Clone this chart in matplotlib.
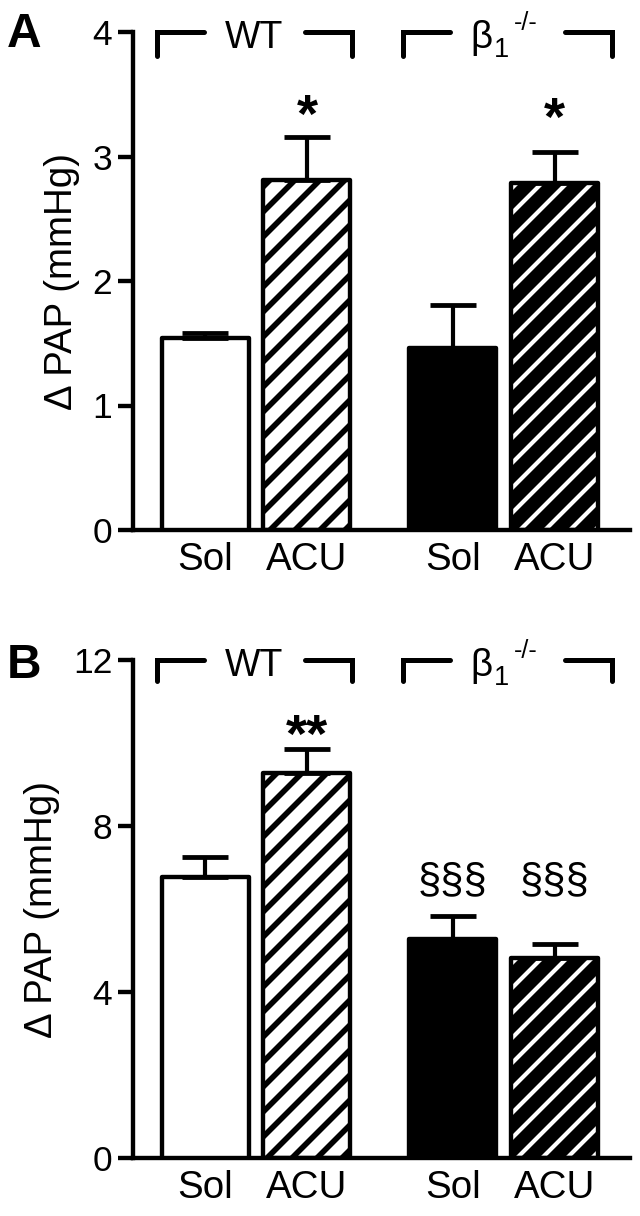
import matplotlib
matplotlib.use('Agg')
import matplotlib.pyplot as plt

# ---------------- data ----------------
conditions = ['Sol', 'ACU', 'Sol', 'ACU']
group_labels = ['WT', 'β1-/-']

a_means = [1.54, 2.81, 1.46, 2.79]
a_sem = [0.045, 0.35, 0.35, 0.25]
a_marks = ['', '*', '', '*']
a_mark_y = [0, 3.20, 0, 3.17]
a_yticks = [0, 1, 2, 3, 4]

b_means = [6.77, 9.28, 5.28, 4.82]
b_sem = [0.48, 0.58, 0.55, 0.34]
b_marks = ['', '**', '§§§', '§§§']
b_mark_y = [0, 9.78, 6.41, 6.41]
b_yticks = [0, 4, 8, 12]

ylabel = 'Δ PAP (mmHg)'

# ---------------- style ----------------
plt.rcParams['font.family'] = ['Liberation Sans', 'DejaVu Sans']
plt.rcParams['hatch.linewidth'] = 2.6

DPI = 150
W, H = 640, 1216
fig = plt.figure(figsize=(W / DPI, H / DPI), dpi=DPI)


def fx(px):
    return px / W


def fy(py):
    return 1 - py / H


xpos = [1.0, 2.0, 3.43, 4.43]
bar_w = 0.853
faces = ['white', 'white', 'black', 'black']
hatches = [None, '//', None, '//']
hatch_cols = [None, 'black', None, 'white']
hatch_lws = [None, 2.7, None, 2.0]
LW = 2.1


def panel(ax, means, sems, marks, mark_y, yticks, letter, letter_base, bracket_drop):
    ymax = yticks[-1]
    for i in range(4):
        if hatches[i]:
            bc = ax.bar(xpos[i], means[i], bar_w, facecolor=faces[i], edgecolor=hatch_cols[i],
                        hatch=hatches[i], linewidth=0, zorder=2)
            for p in bc.patches:
                if hasattr(p, 'set_hatch_linewidth'):
                    p.set_hatch_linewidth(hatch_lws[i])
            ax.bar(xpos[i], means[i], bar_w, fill=False, edgecolor='black',
                   linewidth=LW, zorder=3, joinstyle='round')
        else:
            ax.bar(xpos[i], means[i], bar_w, facecolor=faces[i], edgecolor='black',
                   linewidth=LW, zorder=3, joinstyle='round')
    ax.errorbar(xpos, means, yerr=[[0] * 4, sems], fmt='none', ecolor='black',
                elinewidth=2.0, capsize=11, capthick=2.3, zorder=4)
    for i in range(4):
        if marks[i]:
            big = '*' in marks[i]
            ax.text(xpos[i], mark_y[i], marks[i], ha='center', va='baseline',
                    fontsize=26 if big else 20, fontweight='bold' if big else 'normal',
                    zorder=5)
    ax.set_xlim(0.294, 5.167)
    ax.set_ylim(0, ymax)
    ax.set_yticks(yticks)
    ax.set_xticks(xpos)
    ax.set_xticklabels(conditions, fontsize=18.5)
    ax.tick_params(axis='x', length=0, pad=6)
    ax.tick_params(axis='y', length=7, width=2.1, labelsize=17, pad=3, direction='out')
    for s in ['top', 'right']:
        ax.spines[s].set_visible(False)
    for s in ['left', 'bottom']:
        ax.spines[s].set_linewidth(2.1)
    ax.set_ylabel(ylabel, fontsize=18.5, labelpad=6)

    # group brackets
    centers = [(xpos[0] + xpos[1]) / 2 - 0.015, (xpos[2] + xpos[3]) / 2 + 0.035]
    halves = [0.955, 1.025]
    arm = 0.46
    for c, hw in zip(centers, halves):
        for sgn in (-1, 1):
            xe = c + sgn * hw
            xi = xe - sgn * arm
            ax.plot([xi, xe, xe], [ymax, ymax, ymax - bracket_drop], color='black',
                    lw=2.4, solid_capstyle='round', solid_joinstyle='miter',
                    clip_on=False, zorder=5)
    # WT label
    ax.annotate(group_labels[0], xy=(centers[0], ymax), xytext=(0, -7.5),
                textcoords='offset points', ha='center', va='baseline', fontsize=18,
                annotation_clip=False)
    # beta1 -/- label built from pieces
    beta, sub, sup = group_labels[1][0], group_labels[1][1], group_labels[1][2:]
    ax.annotate(beta, xy=(centers[1], ymax), xytext=(-12.5, -7.7),
                textcoords='offset points', ha='center', va='baseline', fontsize=18.5,
                annotation_clip=False)
    ax.annotate(sub, xy=(centers[1], ymax), xytext=(-3, -12),
                textcoords='offset points', ha='center', va='baseline', fontsize=13,
                annotation_clip=False)
    ax.annotate(sup, xy=(centers[1], ymax), xytext=(8.8, 1.2),
                textcoords='offset points', ha='center', va='baseline', fontsize=12,
                annotation_clip=False)

    fig.text(fx(7), fy(letter_base), letter, fontsize=23, fontweight='bold',
             ha='left', va='baseline')


axA = fig.add_axes([fx(133), fy(530), fx(630) - fx(133), fy(32) - fy(530)])
panel(axA, a_means, a_sem, a_marks, a_mark_y, a_yticks, 'A', 47, 0.19)

axB = fig.add_axes([fx(133), fy(1158), fx(630) - fx(133), fy(660) - fy(1158)])
panel(axB, b_means, b_sem, b_marks, b_mark_y, b_yticks, 'B', 678, 0.5)

fig.savefig('out.png', dpi=DPI)
